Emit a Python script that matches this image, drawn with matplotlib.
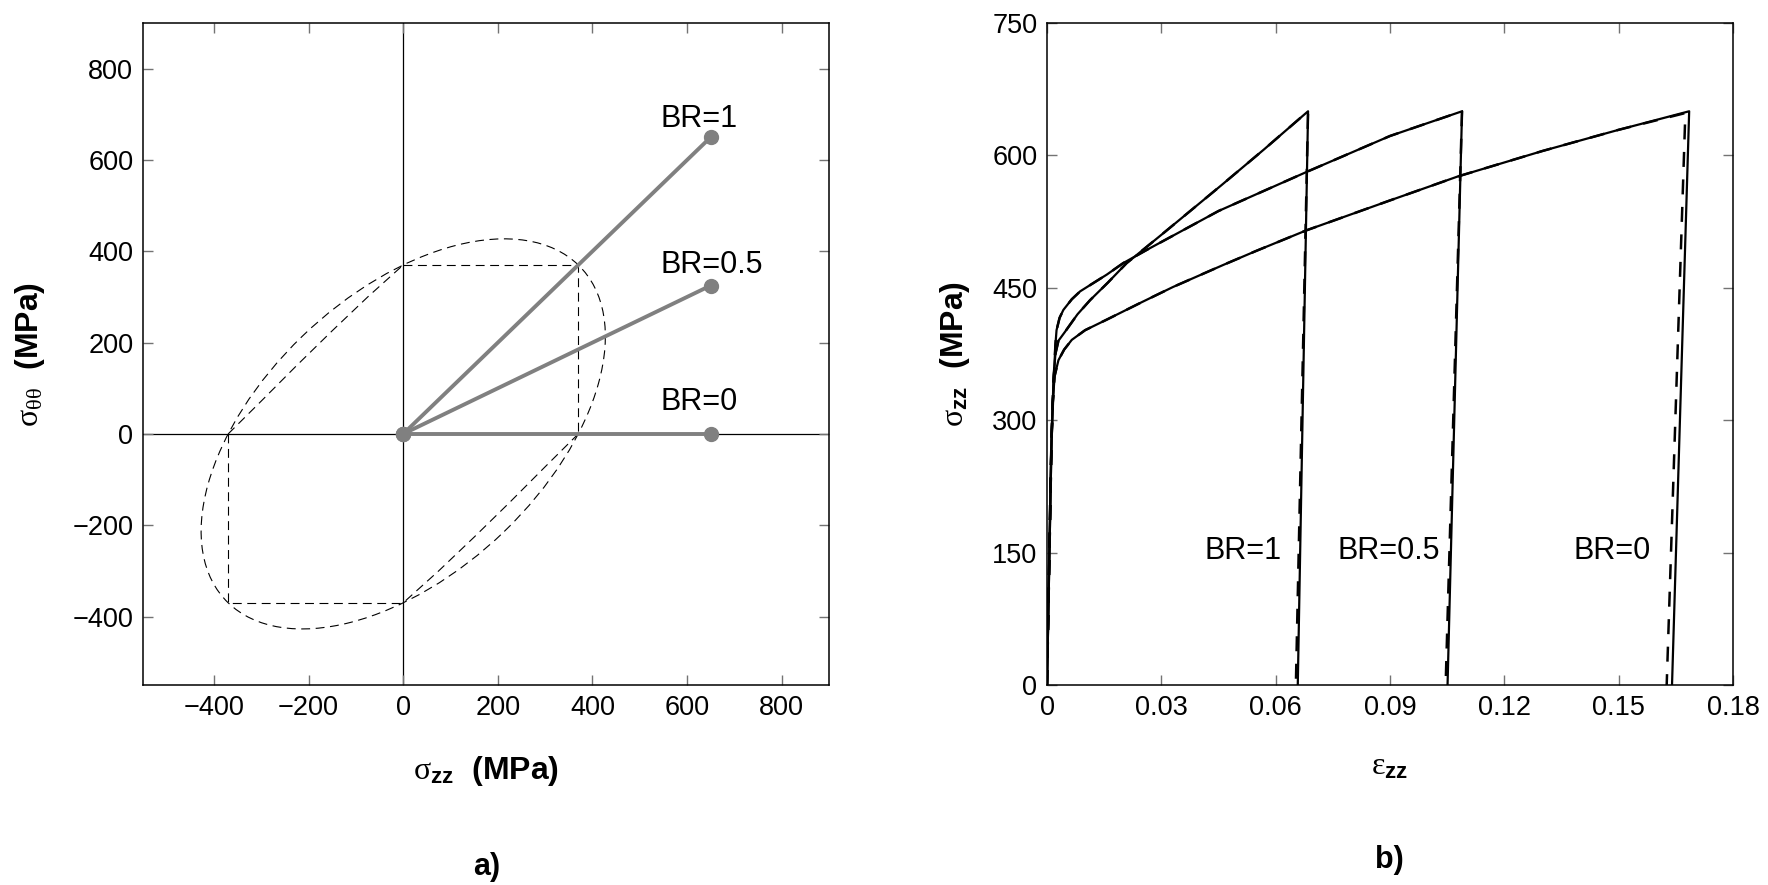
import matplotlib
matplotlib.use("Agg")
import matplotlib.pyplot as plt
from matplotlib.patches import Ellipse
import numpy as np

plt.rcParams['font.family'] = ['Liberation Sans', 'DejaVu Sans']
plt.rcParams['mathtext.fontset'] = 'custom'
plt.rcParams['mathtext.rm'] = 'Liberation Serif'
plt.rcParams['mathtext.it'] = 'Liberation Serif:italic'
plt.rcParams['mathtext.bf'] = 'Liberation Sans:bold'
plt.rcParams['mathtext.sf'] = 'Liberation Sans'

# ---- panel a) : loading paths in stress space ----
yield_stress = 370.0                       # von Mises / Tresca yield stress (MPa)
path_labels = ['BR=1', 'BR=0.5', 'BR=0']
path_end_zz = [650, 650, 650]
path_end_tt = [650, 325, 0]
path_label_y = [690, 370, 70]

# inner (Tresca-like) curves in 2nd and 4th quadrant
inner2_zz = [-370, -300, -225, -150, -75, 0]
inner2_tt = [0, 72, 150, 226, 300, 370]
inner4_zz = [370, 300, 225, 150, 75, 0]
inner4_tt = [0, -72, -150, -226, -300, -370]
# Tresca box edges in 1st and 3rd quadrant
box1_zz = [0, 370, 370]
box1_tt = [370, 370, 0]
box3_zz = [-370, -370, 0]
box3_tt = [0, -370, -370]

# ---- panel b) : stress-strain curves ----
br1_eps = [0, 0.0012, 0.0017, 0.0022, 0.0030, 0.0047, 0.0080, 0.0113, 0.0160,
           0.0209, 0.0232, 0.0300, 0.0457, 0.0570, 0.0685]
br1_sig = [0, 280, 345, 375, 390, 400, 420, 436, 456, 478, 486, 510, 566, 607, 650]
br1_unload_solid = 0.0658
br1_unload_dash = 0.0653

br05_eps = [0, 0.0012, 0.0018, 0.0022, 0.0025, 0.0033, 0.0043, 0.0065, 0.0087,
            0.0157, 0.0200, 0.0262, 0.0450, 0.0685, 0.0900, 0.1089]
br05_sig = [0, 280, 350, 385, 402, 416, 425, 437, 446, 465, 478, 493, 537, 582, 622, 650]
br05_unload_solid = 0.1051
br05_unload_dash = 0.1046

br0_eps = [0, 0.0010, 0.0015, 0.0020, 0.0030, 0.0045, 0.0065, 0.0100, 0.0157,
           0.0250, 0.0331, 0.0463, 0.0550, 0.0680, 0.0900, 0.1077, 0.1300, 0.1500, 0.1685]
br0_sig = [0, 250, 320, 350, 368, 380, 391, 402, 414, 434, 451, 476, 492, 515,
           549, 576, 605, 629, 650]
br0_unload_solid = 0.1640
br0_unload_dash = 0.1626
br0_dash_peak = (0.1675, 648)

curve_labels = ['BR=1', 'BR=0.5', 'BR=0']
curve_label_x = [0.0615, 0.1030, 0.1585]
curve_label_y = 152

fig = plt.figure(figsize=(17.68, 8.85), dpi=100)
ax1 = fig.add_axes([0.0809, 0.226, 0.388, 0.748])
ax2 = fig.add_axes([0.5922, 0.226, 0.388, 0.748])

gray = '#808080'
dash_a = (0, (8, 5))

# panel a
ax1.axhline(0, color='k', lw=0.9, zorder=1)
ax1.axvline(0, color='k', lw=0.9, zorder=1)
ell = Ellipse((0, 0), width=2 * yield_stress * np.sqrt(2),
              height=2 * yield_stress * np.sqrt(2.0 / 3.0), angle=45,
              fill=False, edgecolor='k', lw=0.8, linestyle=dash_a)
ax1.add_patch(ell)
for xs, ys in [(inner2_zz, inner2_tt), (inner4_zz, inner4_tt),
               (box1_zz, box1_tt), (box3_zz, box3_tt)]:
    ax1.plot(xs, ys, color='k', lw=0.8, linestyle=dash_a)
for lab, xe, ye, ly in zip(path_labels, path_end_zz, path_end_tt, path_label_y):
    ax1.plot([0, xe], [0, ye], color=gray, lw=2.8, marker='o', ms=10,
             solid_capstyle='round', zorder=3)
    ax1.text(543, ly, lab, fontsize=22, ha='left', va='center')

ax1.set_xlim(-550, 900)
ax1.set_ylim(-550, 900)
ax1.set_xticks(range(-400, 801, 200))
ax1.set_yticks(range(-400, 801, 200))
ax1.set_xlabel(r'$\mathrm{\sigma}_{\mathbf{zz}}$  (MPa)', fontsize=23, fontweight='bold')
ax1.set_ylabel(r'$\mathrm{\sigma}_{\mathrm{\theta\theta}}$  (MPa)', fontsize=23, fontweight='bold')
ax1.xaxis.set_label_coords(0.5, -0.105)
ax1.yaxis.set_label_coords(-0.14, 0.5)

# panel b
ax2.plot(br1_eps + [br1_unload_solid], br1_sig + [0], color='k', lw=1.6)
ax2.plot(br1_eps + [br1_unload_dash], br1_sig + [0], color='k', lw=1.8,
         linestyle=(0, (6, 5)))
ax2.plot(br05_eps + [br05_unload_solid], br05_sig + [0], color='k', lw=1.6)
ax2.plot(br05_eps + [br05_unload_dash], br05_sig + [0], color='k', lw=1.8,
         linestyle=(0, (6, 5)))
ax2.plot(br0_eps + [br0_unload_solid], br0_sig + [0], color='k', lw=1.6)
ax2.plot(br0_eps[:-1] + [br0_dash_peak[0], br0_unload_dash],
         br0_sig[:-1] + [br0_dash_peak[1], 0], color='k', lw=1.8,
         linestyle=(0, (6, 5)))
for lab, lx in zip(curve_labels, curve_label_x):
    ax2.text(lx, curve_label_y, lab, fontsize=22, ha='right', va='center')

ax2.set_xlim(0, 0.18)
ax2.set_ylim(0, 750)
ax2.set_xticks([0, 0.03, 0.06, 0.09, 0.12, 0.15, 0.18])
ax2.set_xticklabels(['0', '0.03', '0.06', '0.09', '0.12', '0.15', '0.18'])
ax2.set_yticks(range(0, 751, 150))
ax2.set_xlabel(r'$\mathrm{\varepsilon}_{\mathbf{zz}}$', fontsize=23, fontweight='bold')
ax2.set_ylabel(r'$\mathrm{\sigma}_{\mathbf{zz}}$  (MPa)', fontsize=23, fontweight='bold')
ax2.xaxis.set_label_coords(0.5, -0.1)
ax2.yaxis.set_label_coords(-0.11, 0.5)

for ax in (ax1, ax2):
    ax.tick_params(direction='in', top=True, right=True, length=7, width=1,
                   color='0.45', labelsize=19.5, pad=7)
    for sp in ax.spines.values():
        sp.set_linewidth(1.1)

fig.text(0.275, 0.02, 'a)', fontsize=22, fontweight='bold', ha='center', va='center')
fig.text(0.786, 0.028, 'b)', fontsize=22, fontweight='bold', ha='center', va='center')

fig.savefig('out.png', dpi=100)
